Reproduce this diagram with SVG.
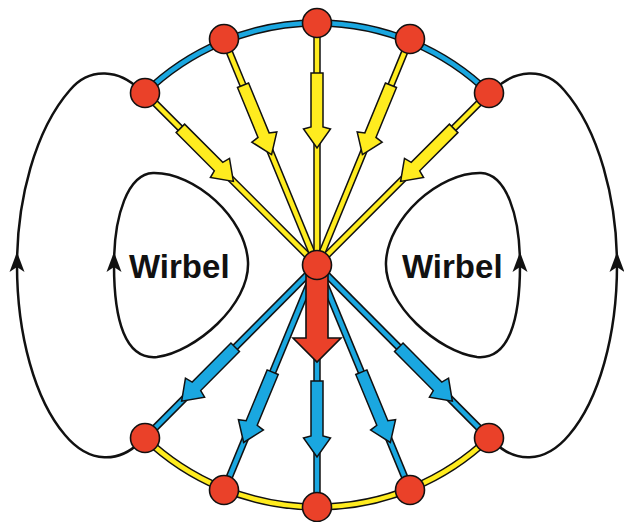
<svg xmlns="http://www.w3.org/2000/svg" xmlns:xlink="http://www.w3.org/1999/xlink" width="624" height="522" viewBox="0 0 624 522">
<style>
.loop{fill:none;stroke:#111;stroke-width:2.5}
.ah{fill:#111;stroke:none}
.out{fill:none;stroke:#111;stroke-width:7.5}
.yl{fill:none;stroke:#FFEC1F;stroke-width:4.5}
.bl{fill:none;stroke:#1AA7E0;stroke-width:4.5}
.ya{fill:#FFEC1F;stroke:#111;stroke-width:1.5;stroke-linejoin:miter}
.ba{fill:#1AA7E0;stroke:#111;stroke-width:1.5;stroke-linejoin:miter}
.node{fill:#EA4129;stroke:#111;stroke-width:1.6}
.lbl{font-family:"Liberation Sans",Arial,sans-serif;font-weight:bold;font-size:33px;fill:#111}
</style>
<defs>
<path id="yArrow" d="M50,-6 H104 L106,-13.5 L125,0 L106,13.5 L104,6 H50 Z"/>
<path id="bArrow" d="M116,-6 H171 L173,-13.5 L192,0 L173,13.5 L171,6 H116 Z"/>
<path id="arrUp" d="M0,-13 L7.5,7 L0,2 L-7.5,7 Z"/>
</defs>
<g id="loops">
<g id="left-loops">
<path class="loop" d="M140,90 C120,70 90,66 70,90 C35,130 17,200 17,265 C17,335 35,400 65,435 C90,465 120,462 140,442"/>
<use href="#arrUp" class="ah" transform="translate(17,265)"/>
<path class="loop" d="M153,173 C195,172 246,218 248,262 C250,305 195,352 157,357 C125,360 114,320 114,265 C114,215 128,174 153,173 Z"/>
<use href="#arrUp" class="ah" transform="translate(114,265)"/>
</g>
<g id="right-loops" transform="matrix(-1,0,0,1,634,0)">
<path class="loop" d="M140,90 C120,70 90,66 70,90 C35,130 17,200 17,265 C17,335 35,400 65,435 C90,465 120,462 140,442"/>
<use href="#arrUp" class="ah" transform="translate(17,265)"/>
<path class="loop" d="M153,173 C195,172 246,218 248,262 C250,305 195,352 157,357 C125,360 114,320 114,265 C114,215 128,174 153,173 Z"/>
<use href="#arrUp" class="ah" transform="translate(114,265)"/>
</g>
</g>
<g id="labels">
<text class="lbl" x="129" y="278">Wirbel</text>
<text class="lbl" x="402" y="278">Wirbel</text>
</g>
<g id="connectors">
<path class="out" d="M145,93 A246.3,246.3 0 0 1 489,93"/>
<path class="bl" d="M145,93 A246.3,246.3 0 0 1 489,93"/>
<path class="out" d="M145,438 A249,249 0 0 0 489,438"/>
<path class="yl" d="M145,438 A249,249 0 0 0 489,438"/>
<g id="yellow-lines">
<path class="out" d="M145,93 L317,265"/><path class="yl" d="M145,93 L317,265"/>
<path class="out" d="M224,39 L317,265"/><path class="yl" d="M224,39 L317,265"/>
<path class="out" d="M317,23 L317,265"/><path class="yl" d="M317,23 L317,265"/>
<path class="out" d="M410,39 L317,265"/><path class="yl" d="M410,39 L317,265"/>
<path class="out" d="M489,93 L317,265"/><path class="yl" d="M489,93 L317,265"/>
<use href="#yArrow" class="ya" transform="translate(145,93) rotate(45)"/>
<use href="#yArrow" class="ya" transform="translate(224,39) rotate(67.63)"/>
<use href="#yArrow" class="ya" transform="translate(317,23) rotate(90)"/>
<use href="#yArrow" class="ya" transform="translate(410,39) rotate(112.37)"/>
<use href="#yArrow" class="ya" transform="translate(489,93) rotate(135)"/>
</g>
<g id="blue-lines">
<path class="out" d="M317,265 L145,438"/><path class="bl" d="M317,265 L145,438"/>
<path class="out" d="M317,265 L224,490"/><path class="bl" d="M317,265 L224,490"/>
<path class="out" d="M317,265 L317,507"/><path class="bl" d="M317,265 L317,507"/>
<path class="out" d="M317,265 L410,490"/><path class="bl" d="M317,265 L410,490"/>
<path class="out" d="M317,265 L489,438"/><path class="bl" d="M317,265 L489,438"/>
<use href="#bArrow" class="ba" transform="translate(317,265) rotate(134.83)"/>
<use href="#bArrow" class="ba" transform="translate(317,265) rotate(112.46)"/>
<use href="#bArrow" class="ba" transform="translate(317,265) rotate(90)"/>
<use href="#bArrow" class="ba" transform="translate(317,265) rotate(67.54)"/>
<use href="#bArrow" class="ba" transform="translate(317,265) rotate(45.17)"/>
</g>
<path id="red-arrow" d="M306,270 V338 H293 L317,362 L341,338 H328 V270 Z" fill="#EA4129" stroke="#111" stroke-width="1.6" stroke-linejoin="miter"/>
</g>
<g id="nodes">
<g id="n-center"><circle class="node" cx="317" cy="265" r="14.5"/></g>
<g id="n-t1"><circle class="node" cx="145" cy="93" r="14.5"/></g>
<g id="n-t2"><circle class="node" cx="224" cy="39" r="14.5"/></g>
<g id="n-t3"><circle class="node" cx="317" cy="23" r="14.5"/></g>
<g id="n-t4"><circle class="node" cx="410" cy="39" r="14.5"/></g>
<g id="n-t5"><circle class="node" cx="489" cy="93" r="14.5"/></g>
<g id="n-b1"><circle class="node" cx="145" cy="438" r="14.5"/></g>
<g id="n-b2"><circle class="node" cx="224" cy="490" r="14.5"/></g>
<g id="n-b3"><circle class="node" cx="317" cy="507" r="14.5"/></g>
<g id="n-b4"><circle class="node" cx="410" cy="490" r="14.5"/></g>
<g id="n-b5"><circle class="node" cx="489" cy="438" r="14.5"/></g>
</g>
</svg>
